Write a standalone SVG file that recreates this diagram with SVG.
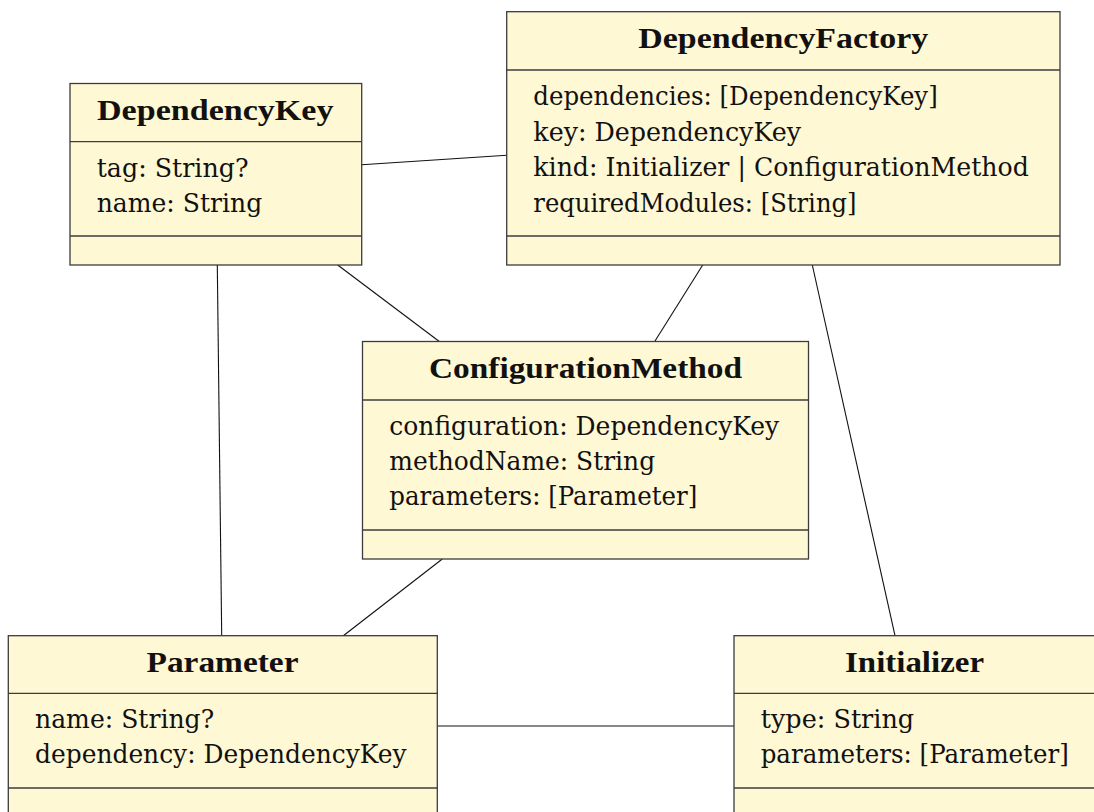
<svg xmlns="http://www.w3.org/2000/svg" width="1094" height="812" viewBox="0 0 1094 812">
<style>
.box{fill:#FFF8D5;stroke:#3c3c3c;stroke-width:1.3}
.sep{stroke:#3c3c3c;stroke-width:1.3;fill:none}
.conn line{stroke:#111;stroke-width:1.1}
text{font-family:"DejaVu Serif","Liberation Serif",serif;font-size:25.5px;fill:#111}
.t{font-family:"Liberation Serif","DejaVu Serif",serif;font-size:28.9px;font-weight:bold}
</style>
<rect width="1094" height="812" fill="#fff"/>
<g id="connectors" class="conn">
<line x1="361.7" y1="164.7" x2="506.7" y2="155.3"/>
<line x1="217.3" y1="265" x2="221.7" y2="635.7"/>
<line x1="337.7" y1="265" x2="439.3" y2="341.5"/>
<line x1="702.7" y1="265" x2="654.7" y2="341.5"/>
<line x1="812.3" y1="265" x2="895" y2="635.7"/>
<line x1="442.3" y1="559" x2="343.3" y2="635.7"/>
<line x1="437.3" y1="726" x2="734" y2="726"/>
</g>
<g id="DependencyKey">
<rect class="box" x="70" y="83.5" width="291.7" height="181.5"/>
<line class="sep" x1="70" y1="141.7" x2="361.7" y2="141.7"/>
<line class="sep" x1="70" y1="236" x2="361.7" y2="236"/>
<text class="t" x="97" y="120" textLength="236.5" lengthAdjust="spacingAndGlyphs">DependencyKey</text>
<text x="96.7" y="176.7" textLength="151.8" lengthAdjust="spacingAndGlyphs">tag: String?</text>
<text x="96.7" y="211.7" textLength="165.5" lengthAdjust="spacingAndGlyphs">name: String</text>
</g>
<g id="DependencyFactory">
<rect class="box" x="506.7" y="11.7" width="553.3" height="253.3"/>
<line class="sep" x1="506.7" y1="70" x2="1060" y2="70"/>
<line class="sep" x1="506.7" y1="236" x2="1060" y2="236"/>
<text class="t" x="638.3" y="48.2" textLength="290" lengthAdjust="spacingAndGlyphs">DependencyFactory</text>
<text x="533.3" y="105" textLength="404.4" lengthAdjust="spacingAndGlyphs">dependencies: [DependencyKey]</text>
<text x="533.3" y="140.5" textLength="267.7" lengthAdjust="spacingAndGlyphs">key: DependencyKey</text>
<text x="533.3" y="176" textLength="495.6" lengthAdjust="spacingAndGlyphs">kind: Initializer | ConfigurationMethod</text>
<text x="533.3" y="211.5" textLength="323.2" lengthAdjust="spacingAndGlyphs">requiredModules: [String]</text>
</g>
<g id="ConfigurationMethod">
<rect class="box" x="362.5" y="341.5" width="446" height="217.5"/>
<line class="sep" x1="362.5" y1="400" x2="808.5" y2="400"/>
<line class="sep" x1="362.5" y1="530" x2="808.5" y2="530"/>
<text class="t" x="429" y="378" textLength="313" lengthAdjust="spacingAndGlyphs">ConfigurationMethod</text>
<text x="389.3" y="435" textLength="389.9" lengthAdjust="spacingAndGlyphs">configuration: DependencyKey</text>
<text x="389.3" y="470" textLength="265.8" lengthAdjust="spacingAndGlyphs">methodName: String</text>
<text x="389.3" y="505" textLength="308" lengthAdjust="spacingAndGlyphs">parameters: [Parameter]</text>
</g>
<g id="Parameter">
<rect class="box" x="8.3" y="635.7" width="429" height="190"/>
<line class="sep" x1="8.3" y1="693.3" x2="437.3" y2="693.3"/>
<line class="sep" x1="8.3" y1="788" x2="437.3" y2="788"/>
<text class="t" x="146.5" y="672" textLength="152" lengthAdjust="spacingAndGlyphs">Parameter</text>
<text x="35" y="728.3" textLength="179.1" lengthAdjust="spacingAndGlyphs">name: String?</text>
<text x="35" y="763.3" textLength="371.5" lengthAdjust="spacingAndGlyphs">dependency: DependencyKey</text>
</g>
<g id="Initializer">
<rect class="box" x="734" y="635.7" width="361.5" height="190"/>
<line class="sep" x1="734" y1="693.3" x2="1095.5" y2="693.3"/>
<line class="sep" x1="734" y1="788" x2="1095.5" y2="788"/>
<text class="t" x="845" y="672" textLength="139" lengthAdjust="spacingAndGlyphs">Initializer</text>
<text x="760.7" y="728.3" textLength="153.5" lengthAdjust="spacingAndGlyphs">type: String</text>
<text x="760.7" y="763.3" textLength="308" lengthAdjust="spacingAndGlyphs">parameters: [Parameter]</text>
</g>
</svg>
